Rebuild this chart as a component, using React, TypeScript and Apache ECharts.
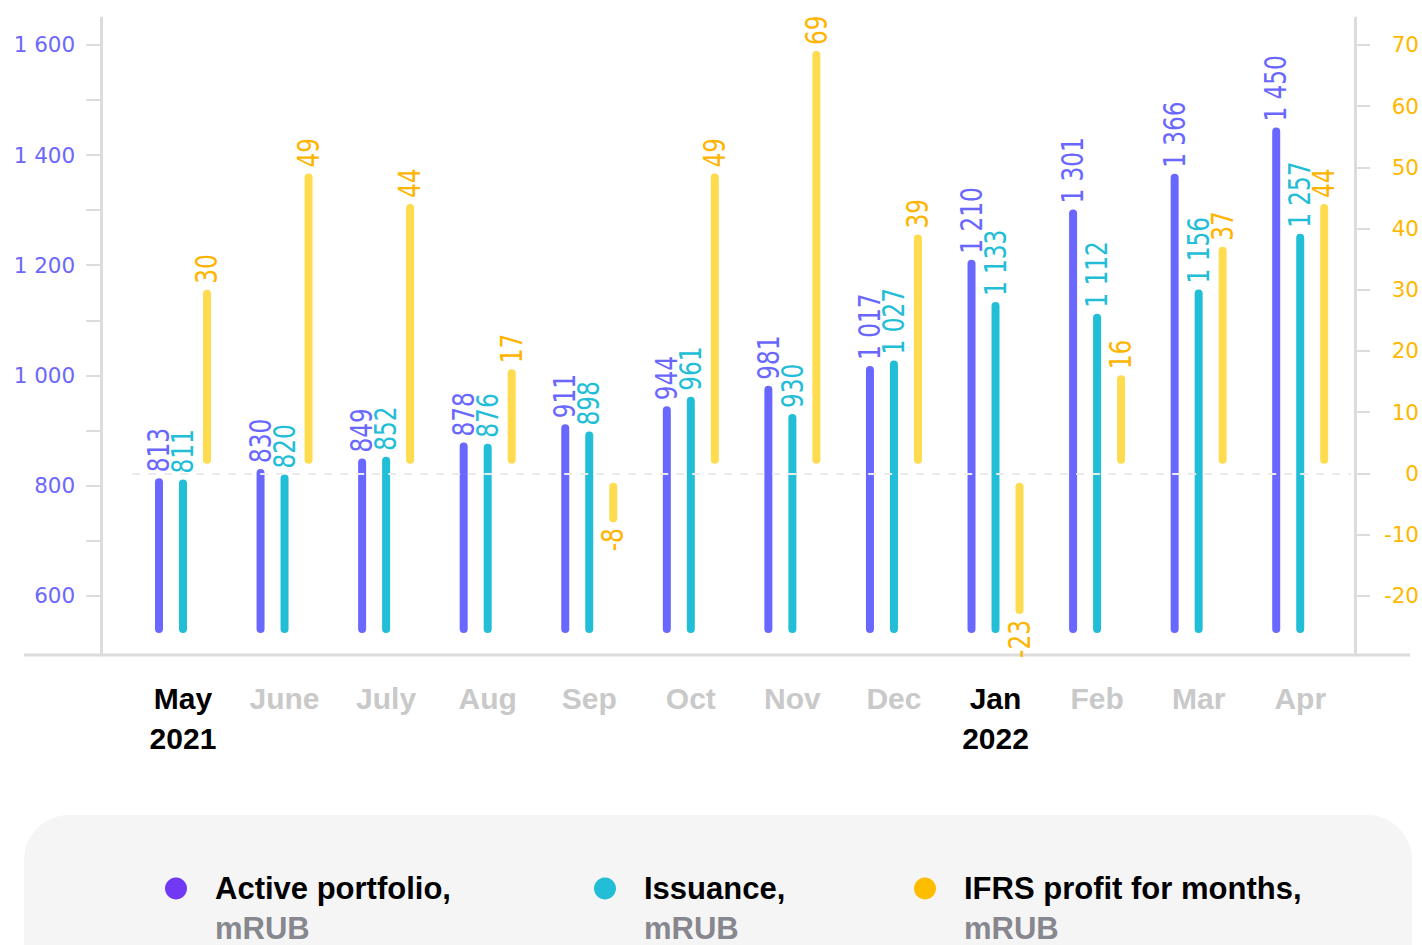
import React, { useEffect, useRef } from "react";
import * as echarts from "echarts";

const months = ["May", "June", "July", "Aug", "Sep", "Oct", "Nov", "Dec", "Jan", "Feb", "Mar", "Apr"];
const years = ["2021", "", "", "", "", "", "", "", "2022", "", "", ""];
const activePortfolio = [813, 830, 849, 878, 911, 944, 981, 1017, 1210, 1301, 1366, 1450];
const issuance = [811, 820, 852, 876, 898, 961, 930, 1027, 1133, 1112, 1156, 1257];
const ifrsProfit = [30, 49, 44, 17, -8, 49, 69, 39, -23, 16, 37, 44];
const leftAxisLabels = [600, 800, 1000, 1200, 1400, 1600];
const leftAxisTicks = [600, 700, 800, 900, 1000, 1100, 1200, 1300, 1400, 1500, 1600];
const rightAxisLabels = [-20, -10, 0, 10, 20, 30, 40, 50, 60, 70];
const seriesNames = ["Active portfolio", "Issuance", "IFRS profit for months"];
const unitName = "mRUB";

const LEFT_MIN = 492.2;
const LEFT_MAX = 1648.9;
const RIGHT_MIN = -29.7;
const RIGHT_MAX = 74.4;

const BLUE = "#6a67ff";
const CYAN = "#22bdd6";
const YELLOW = "#ffdb4f";
const YELLOW_LABEL = "#ffb400";
const LEGEND_PURPLE = "#7239f5";
const LEGEND_AMBER = "#ffbd00";
const AXIS_GREY = "#dcdcdc";

const BAR_W = 8;
const BASE_GAP = 22;
const ZERO_GAP = 9.5;
const LABEL_GAP = 6;
const LABEL_FONT = "30px 'DejaVu Sans Condensed', 'DejaVu Sans', sans-serif";
const LABEL_SQUEEZE = 0.86;
const AXIS_FONT = "DejaVu Sans";
const TEXT_FONT = "'Liberation Sans', Arial, sans-serif";

const fmt = (v: number) => {
  const s = Math.abs(v).toString().replace(/\B(?=(\d{3})+(?!\d))/g, " ");
  return (v < 0 ? "-" : "") + s;
};

function makeRender(values: number[], offsetX: number, color: string, labelColor: string, fromZero: boolean) {
  return (params: any, api: any) => {
    const idx = api.value(0);
    const v = api.value(1);
    const pt = api.coord([idx, v]);
    const x = pt[0] + offsetX;
    const yEnd = pt[1];
    const cs = params.coordSys;
    let yStart: number;
    if (fromZero) {
      const z = api.coord([idx, 0])[1];
      yStart = v >= 0 ? z - ZERO_GAP : z + ZERO_GAP;
    } else {
      yStart = cs.y + cs.height - BASE_GAP;
    }
    const up = yEnd <= yStart;
    const top = Math.min(yStart, yEnd);
    const h = Math.abs(yEnd - yStart);
    return {
      type: "group",
      children: [
        {
          type: "rect",
          shape: { x: x - BAR_W / 2, y: top, width: BAR_W, height: h, r: BAR_W / 2 },
          style: { fill: color },
        },
        {
          type: "text",
          x: x,
          y: up ? yEnd - LABEL_GAP : yEnd + LABEL_GAP,
          rotation: Math.PI / 2,
          scaleX: LABEL_SQUEEZE,
          style: {
            text: fmt(values[idx]),
            fill: labelColor,
            font: LABEL_FONT,
            align: up ? "left" : "right",
            verticalAlign: "middle",
          },
        },
      ],
    };
  };
}

const legendFor = (name: string, color: string, left: number) => ({
  show: true,
  left,
  top: 873,
  padding: 0,
  icon: "circle",
  itemWidth: 22,
  itemHeight: 22,
  selectedMode: false,
  data: [{ name, itemStyle: { color } }],
  formatter: (n: string) => `{t|${n},}\n{u|${unitName}}`,
  textStyle: {
    padding: [40, 0, 0, 23],
    rich: {
      t: { fontSize: 31, fontWeight: 600, color: "#000", lineHeight: 40, fontFamily: TEXT_FONT },
      u: { fontSize: 31, fontWeight: 600, color: "#87878f", lineHeight: 40, fontFamily: TEXT_FONT },
    },
  },
});

export default function App() {
  const ref = useRef<HTMLDivElement>(null);
  useEffect(() => {
    if (!ref.current) return;
    const chart = echarts.init(ref.current, undefined, { renderer: "svg" });
    const option: any = {
      animation: false,
      backgroundColor: "#ffffff",
      grid: { left: 132.2, right: 69.4, top: 18, bottom: 290, containLabel: false },
      graphic: [
        {
          type: "rect",
          z: -10,
          shape: { x: 24, y: 815, width: 1388, height: 220, r: 45 },
          style: { fill: "#f5f5f5" },
        },
        {
          type: "line",
          z: -5,
          shape: { x1: 24, y1: 655, x2: 1410, y2: 655 },
          style: { stroke: AXIS_GREY, lineWidth: 3 },
        },
      ],
      legend: [
        legendFor(seriesNames[0], LEGEND_PURPLE, 165),
        legendFor(seriesNames[1], CYAN, 594),
        legendFor(seriesNames[2], LEGEND_AMBER, 914),
      ],
      xAxis: {
        type: "category",
        data: months,
        boundaryGap: true,
        axisLine: { show: false },
        axisTick: { show: false },
        splitLine: { show: false },
        axisLabel: {
          interval: 0,
          margin: 23,
          formatter: (val: string, idx: number) =>
            years[idx] ? `{b|${val}}\n{b|${years[idx]}}` : `{g|${val}}`,
          rich: {
            b: { color: "#000", fontSize: 30, fontWeight: 600, lineHeight: 40, fontFamily: TEXT_FONT },
            g: { color: "#c9c9c9", fontSize: 30, fontWeight: 600, lineHeight: 40, fontFamily: TEXT_FONT },
          },
        },
      },
      yAxis: [
        {
          type: "value",
          position: "left",
          offset: 31,
          min: LEFT_MIN,
          max: LEFT_MAX,
          splitLine: { show: false },
          axisLine: { show: true, lineStyle: { color: AXIS_GREY, width: 3 } },
          axisTick: { show: true, length: 15, customValues: leftAxisTicks, lineStyle: { color: AXIS_GREY, width: 2 } },
          axisLabel: {
            customValues: leftAxisLabels,
            margin: 26,
            color: "#6b68fb",
            fontSize: 21.5,
            fontFamily: AXIS_FONT,
            formatter: (v: number) => fmt(v),
          },
        },
        {
          type: "value",
          position: "right",
          offset: 4,
          min: RIGHT_MIN,
          max: RIGHT_MAX,
          splitLine: { show: false },
          axisLine: { show: true, lineStyle: { color: AXIS_GREY, width: 3 } },
          axisTick: { show: true, length: 15, customValues: rightAxisLabels, lineStyle: { color: AXIS_GREY, width: 2 } },
          axisLabel: {
            customValues: rightAxisLabels,
            margin: 64,
            align: "right",
            color: "#ffb800",
            fontSize: 21.5,
            fontFamily: AXIS_FONT,
            formatter: (v: number) => fmt(v),
          },
        },
      ],
      series: [
        {
          name: seriesNames[0],
          type: "custom",
          yAxisIndex: 0,
          itemStyle: { color: BLUE },
          encode: { x: 0, y: 1 },
          data: activePortfolio.map((v, i) => [i, v]),
          renderItem: makeRender(activePortfolio, -24, BLUE, BLUE, false),
        },
        {
          name: seriesNames[1],
          type: "custom",
          yAxisIndex: 0,
          itemStyle: { color: CYAN },
          encode: { x: 0, y: 1 },
          data: issuance.map((v, i) => [i, v]),
          renderItem: makeRender(issuance, 0, CYAN, CYAN, false),
        },
        {
          name: seriesNames[2],
          type: "custom",
          yAxisIndex: 1,
          itemStyle: { color: YELLOW },
          encode: { x: 0, y: 1 },
          data: ifrsProfit.map((v, i) => [i, v]),
          renderItem: makeRender(ifrsProfit, 24, YELLOW, YELLOW_LABEL, true),
          markLine: {
            silent: true,
            symbol: "none",
            label: { show: false },
            lineStyle: { color: "#ebebeb", type: [8, 8], width: 2 },
            data: [{ yAxis: 0 }],
          },
        },
      ],
    };
    chart.setOption(option);
    return () => chart.dispose();
  }, []);
  return (
    <div
      ref={ref}
      style={{ position: "fixed", left: 0, top: 0, width: 1422, height: 945, background: "#fff" }}
    />
  );
}
